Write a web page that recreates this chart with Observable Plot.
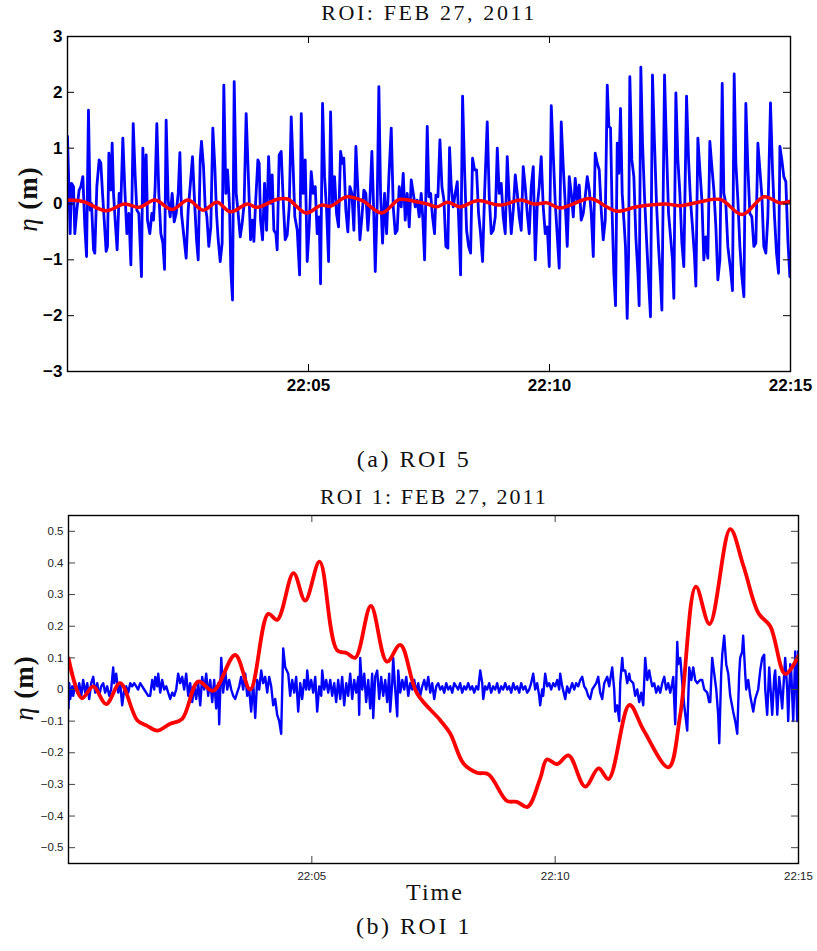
<!DOCTYPE html>
<html><head><meta charset="utf-8">
<script src="https://cdn.jsdelivr.net/npm/d3@7"></script>
<script src="https://cdn.jsdelivr.net/npm/@observablehq/plot@0.6"></script>
<style>
body{margin:0;background:#fff;}
#wrap{position:relative;width:817px;height:951px;overflow:hidden;background:#fff;}
.t{position:absolute;transform:translate(-50%,-50%);white-space:nowrap;font-family:"Liberation Serif","DejaVu Serif",serif;color:#111;}
.ylab{position:absolute;transform:translate(-50%,-50%) rotate(-90deg);white-space:nowrap;font-family:"Liberation Serif","DejaVu Serif",serif;color:#111;font-size:27px;letter-spacing:1px;}
#top,#bot{position:absolute;left:0;}
#top{top:0;} #bot{top:480px;}
</style></head>
<body><div id="wrap">
<div id="top"></div><div id="bot"></div>
<div class="t" style="left:429px;top:13px;font-size:22px;letter-spacing:2.6px">ROI: FEB 27, 2011</div>
<div class="ylab" style="left:28px;top:199px"><i>η</i> <b>(m)</b></div>
<div class="t" style="left:414px;top:459px;font-size:24px;letter-spacing:2.5px">(a) ROI 5</div>
<div class="t" style="left:434px;top:497px;font-size:22px;letter-spacing:2.1px">ROI 1: FEB 27, 2011</div>
<div class="ylab" style="left:24px;top:688px"><i>η</i> <b>(m)</b></div>
<div class="t" style="left:435px;top:892px;font-size:24px;letter-spacing:2px">Time</div>
<div class="t" style="left:414px;top:926px;font-size:24px;letter-spacing:2.5px">(b) ROI 1</div>
</div>
<script>
// time in seconds after 22:00, value in metres
const xTickVals = [300, 600, 900];
const xTickLabels = ["22:05", "22:10", "22:15"];
const topYTicks = [-3, -2, -1, 0, 1, 2, 3];
const botYTicks = [-0.5, -0.4, -0.3, -0.2, -0.1, 0, 0.1, 0.2, 0.3, 0.4, 0.5];

const topBlue = [[0,1.21],[3.3,-0.53],[5.0,0.37],[7.5,0.31],[9.1,-0.53],[11.6,-0.11],[14.5,0.25],[16.6,0.31],[19.1,0.49],[21.6,-0.41],[23.7,-0.94],[26.1,1.68],[28.2,-0.11],[29.9,0.01],[32.4,-0.82],[34.0,-0.88],[36.5,0.31],[39.4,0.79],[41.5,0.73],[43.6,0.19],[45.7,-0.29],[48.1,-0.85],[49.8,-0.76],[51.5,0.91],[54.0,0.25],[55.6,1.09],[57.3,0.19],[59.3,-0.29],[61.8,-0.82],[64.3,0.19],[66.4,0.01],[68.9,1.18],[71.4,0.25],[73.9,-0.53],[76.4,-0.17],[78.9,-1.09],[81.8,1.44],[84.2,0.52],[86.3,-0.11],[88.8,-0.17],[92.1,-1.30],[93.8,1.0],[95.9,0.01],[97.9,0.88],[99.6,-0.29],[102.5,-0.53],[105.0,-0.17],[107.1,-0.29],[109.1,0.31],[111.2,1.44],[113.7,0.19],[116.2,-0.53],[118.7,-0.70],[120.8,-1.17],[122.8,1.50],[125.3,0.07],[127.8,-0.23],[130.3,0.19],[132.8,-0.32],[135.3,-0.17],[137.8,0.19],[139.9,0.92],[141.9,-0.17],[145.3,-0.64],[147.7,-0.97],[150.2,-0.11],[152.7,0.31],[155.6,0.85],[158.1,0.07],[160.6,-0.64],[162.7,-1.0],[165.2,0.79],[166.8,1.12],[169.3,0.67],[171.4,-0.05],[173.5,-0.23],[175.9,-0.76],[178.4,-0.41],[180.9,1.36],[183.4,0.67],[185.5,-0.17],[187.6,-0.64],[190.1,-1.03],[192.5,-0.70],[194.6,2.13],[197.1,0.19],[199.2,0.61],[201.7,-0.05],[203.3,-1.18],[205.4,-1.72],[207.5,2.19],[210.0,0.19],[212.1,-0.11],[215.0,-0.59],[217.4,-0.35],[219.9,0.01],[222.4,1.62],
[227.9,-0.64],[230.3,-0.29],[232.0,-0.67],[234.1,0.01],[237.0,0.79],[238.6,0.73],[240.3,-0.29],[242.8,-0.64],[245.3,0.37],[247.8,-0.47],[250.3,0.85],[252.8,0.01],[254.8,0.52],[256.9,-0.47],[259.4,-0.53],[261.0,-0.82],[263.5,0.88],[266.0,0.94],[268.5,0.07],[271.0,-0.64],[273.5,-0.56],[276.0,-0.05],[278.5,1.56],[281.0,0.61],[283.0,-0.23],[286.0,-0.47],[288.9,-1.27],[291.0,1.62],[293.4,0.19],[295.9,0.79],[298.4,-1.03],[300.9,-0.41],[303.4,0.58],[305.9,0.19],[308.4,0.31],[310.8,-0.53],[313.3,-0.23],[315.0,-1.43],[317.5,1.80],[320.0,0.49],[322.5,-0.11],[325.0,-1.03],[327.5,1.65],[329.9,0.01],[332.4,0.49],[334.9,-0.17],[337.4,-0.41],[339.9,0.94],[342.4,0.73],[344.0,0.82],[346.5,-0.11],[349.0,-0.50],[351.5,0.31],[354.0,0.19],[356.5,-0.47],[359.0,1.03],[361.5,0.25],[364.0,-0.64],[366.5,-0.23],[368.9,0.25],[371.4,0.19],[373.9,-0.47],[376.4,0.07],[378.9,0.94],[381.4,-0.23],[383.1,-1.21],[385.5,0.01],[387.6,2.10],[389.7,0.19],[392.2,-0.70],[394.7,0.19],[397.2,-0.53],[400.1,0.49],[403.0,1.36],[405.5,-0.05],[408.0,-0.53],[410.4,-0.47],[412.9,0.31],[415.4,-0.05],[417.9,0.55],[420.4,-0.29],[422.9,0.19],[425.4,-0.41],[427.9,0.43],[430.4,0.19],[432.9,-0.05],[435.3,0.07],[437.8,-0.23],[440.3,0.19],[442.4,-0.29],[444.5,-1.0],[447.8,1.39],
[449.9,0.13],[452.0,0.19],[454.4,-0.23],[456.9,-0.53],[458.6,0.16],[461.1,0.13],[463.6,1.15],[466.1,0.31],[468.6,0.07],[471.0,-0.76],[473.5,-0.79],[475.6,1.01],[477.7,0.31],[480.2,-0.05],[482.7,0.19],[485.2,0.40],[487.6,-0.53],[489.3,-1.27],[491.8,1.93],[494.3,0.61],[496.8,-0.47],[499.3,-0.76],[501.8,-0.88],[504.2,0.82],[506.7,0.61],[509.2,0.61],[511.7,-0.17],[514.2,-0.53],[516.7,-1.03],[519.2,0.19],[522.5,1.47],[525.0,0.13],[527.5,-0.53],[530.0,-0.47],[532.5,-0.23],[535.0,1.0],[537.4,0.19],[539.9,0.37],[542.4,-0.23],[544.9,-0.53],[547.4,0.85],[549.9,0.07],[552.4,-0.53],[554.9,-0.11],[557.4,0.52],[559.9,0.19],[562.3,-0.23],[564.8,-0.47],[567.3,0.67],[569.8,0.31],[572.3,-0.17],[574.8,-0.53],[577.3,0.31],[579.8,0.67],[582.3,-1.0],[584.7,-0.05],[587.2,0.31],[589.7,0.85],[592.2,-0.05],[594.7,-0.53],[597.2,-0.41],[599.7,-1.12],[602.2,1.76],[604.7,0.88],[607.2,0.01],[609.6,-0.56],[612.1,-1.15],[614.6,1.47],[617.1,0.67],[619.6,0.01],[622.1,-0.76],[624.6,0.49],[627.1,0.19],[629.6,-0.23],[632.0,0.46],[634.5,0.07],[637.0,0.34],[639.5,-0.29],[642.0,-0.17],[644.5,0.13],[647.0,0.49],[649.5,0.25],[652.0,-0.17],[654.5,-0.94],[656.9,0.91],[659.4,0.73],[661.9,0.61],[664.4,-0.11],[666.9,-0.64],[669.4,-0.29],[671.9,2.13],
[673.9,1.39],[676.0,1.36],[678.0,-0.17],[680.1,-1.24],[682.2,-1.82],[684.3,1.09],[686.3,0.55],[688.4,1.71],[690.5,0.19],[692.6,-0.29],[694.6,-0.76],[696.7,-2.05],[698.4,-0.94],[700.0,2.28],[702.5,0.79],[705.0,0.49],[707.5,-0.59],[710.0,-1.24],[711.6,-1.82],[713.7,2.45],[715.8,1.09],[718.3,0.13],[720.8,-0.64],[723.3,-1.36],[725.7,-2.02],[728.2,2.31],[730.7,1.09],[733.2,0.01],[735.7,-0.76],[738.2,-1.36],[739.9,-1.90],[743.2,2.31],[745.7,0.97],[748.2,-0.17],[750.7,-0.59],[753.1,-1.0],[754.8,-1.69],[757.3,1.99],[759.8,0.79],[762.3,0.19],[764.8,-0.70],[767.2,-1.12],[770.6,1.93],[773.1,0.79],[775.5,0.07],[778.0,-0.41],[780.5,-0.94],[782.2,-1.47],[784.7,1.18],[787.2,0.61],[789.7,0.07],[792.1,-1.0],[794.6,-0.59],[797.1,-0.97],[799.6,1.12],[802.1,0.67],[804.6,0.25],[807.1,-0.41],[809.6,-1.36],[812.1,-1.0],[815.0,2.16],[817.0,0.19],[819.5,0.01],[822.0,-0.76],[825.4,-1.18],[827.8,-1.55],[829.9,2.33],[832.0,0.73],[834.5,0.07],[837.0,-0.76],[839.5,-1.30],[842.0,-1.66],[844.4,1.80],[846.9,0.67],[849.4,-0.17],[851.9,-0.23],[854.4,-0.76],[856.9,-0.70],[859.4,1.09],[861.9,0.61],[864.4,0.13],[866.8,-0.76],[869.3,-0.88],[871.8,-0.23],[875.1,1.81],[877.6,0.61],[880.1,-0.23],[882.6,-0.88],[885.1,-1.24],[886.8,1.03],[889.2,0.79],[891.7,0.49],[894.2,0.40],[896.7,-0.64],[899.2,-1.30]];

const topRed = [[1,0.07],[20,0.04],[48,-0.12],[71,0.0],[89,-0.06],[109,0.07],[130,-0.1],[150,0.07],[169,-0.11],[186,0.03],[203,-0.14],[224,0.0],[236,-0.06],[262,0.09],[274,0.09],[297,-0.16],[316,-0.02],[327,-0.04],[348,0.13],[367,0.06],[391,-0.16],[413,0.08],[431,0.05],[448,0.0],[460,-0.05],[473,0.03],[489,-0.05],[510,0.06],[539,-0.02],[564,0.07],[581,0.0],[597,0.02],[613,-0.07],[651,0.1],[671,-0.05],[684,-0.13],[709,-0.05],[744,0.0],[763,-0.03],[788,0.04],[813,0.08],[840,-0.19],[867,0.13],[887,0.02],[900,0.05]];

const botBlue = [[0,-0.06],[0.9,0.02],[2.1,-0.03],[4.6,0.01],[5.8,-0.02],[8.3,0.02],[10.7,-0.01],[13.2,0.02],[15.7,-0.02],[18.1,0.03],[20.6,-0.01],[23.1,0.02],[25.5,-0.03],[28.0,0.02],[30.5,0.04],[32.9,-0.01],[35.4,0.02],[37.9,-0.02],[40.3,0.01],[42.8,0.02],[45.2,-0.01],[47.7,0.01],[50.2,-0.02],[52.6,0.0],[55.1,0.07],[56.3,0.02],[58.8,0.05],[61.3,-0.01],[63.7,0.02],[66.2,-0.05],[68.7,0.0],[71.1,0.01],[73.6,-0.01],[76.1,0.02],[78.5,0.01],[81.0,0.02],[83.5,0.01],[85.9,0.0],[88.4,0.02],[90.9,0.01],[93.3,0.0],[95.8,-0.01],[98.3,-0.02],[100.7,-0.02],[103.2,0.03],[105.7,0.0],[106.9,0.04],[109.4,0.01],[110.6,0.05],[113.1,-0.01],[115.5,0.03],[118.0,0.0],[120.5,0.01],[122.9,-0.01],[125.4,-0.03],[127.9,-0.01],[130.3,-0.02],[132.8,0.0],[135.2,0.05],[137.7,0.02],[140.2,0.04],[142.6,0.0],[145.1,0.05],[147.6,-0.02],[150.0,0.02],[152.5,-0.04],[155.0,0.01],[157.4,-0.03],[159.9,0.02],[162.4,-0.05],[164.8,0.04],[167.3,0.0],[169.8,0.05],[172.2,-0.02],[174.7,0.03],[177.2,-0.04],[179.6,0.03],[182.1,-0.06],[184.6,0.02],[185.8,-0.11],[188.3,0.10],[190.7,-0.01],[193.2,0.06],[195.7,0.0],[198.1,0.03],[200.6,0.0],[203.1,-0.02],[205.5,-0.03],[208.0,-0.01],[210.5,0.01],[212.9,0.04],[215.4,0.0],[217.9,0.05],[220.3,-0.02],[222.8,0.0],[225.2,-0.07],[227.7,0.02],[230.2,-0.09],[232.6,0.03],[235.1,0.0],[237.6,0.06],[240.0,0.02],[242.5,0.04],[245.0,-0.01],[247.4,0.04],[249.9,0.01],[252.4,-0.05],[254.8,-0.03],[257.3,-0.08],[259.8,-0.1],[262.2,-0.14],[264.7,0.13],[267.2,0.07],
[270.9,0.05],[273.3,-0.02],[275.8,0.03],[278.3,-0.01],[280.7,0.04],[283.2,-0.07],[285.7,0.02],[288.1,-0.03],[290.6,0.03],[293.1,0.0],[294.3,0.06],[296.8,0.0],[299.2,0.03],[301.7,-0.01],[304.2,0.04],[306.6,-0.07],[309.1,0.01],[311.6,-0.02],[312.8,0.06],[315.3,0.0],[317.7,0.03],[320.2,-0.01],[322.7,0.03],[325.1,-0.02],[327.6,0.02],[330.0,-0.04],[332.5,0.03],[335.0,-0.03],[337.4,0.04],[339.9,-0.05],[342.4,0.02],[344.8,-0.02],[347.3,0.05],[349.8,-0.03],[352.2,0.03],[354.7,-0.01],[357.2,0.04],[358.4,-0.08],[359.6,0.10],[362.1,0.0],[364.6,0.05],[367.0,-0.04],[369.5,0.03],[372.0,-0.06],[374.4,0.05],[375.7,-0.09],[378.1,0.04],[380.6,0.06],[383.1,-0.03],[385.5,0.04],[388.0,-0.02],[390.5,0.03],[392.9,-0.04],[395.4,0.05],[396.6,-0.07],[399.1,0.02],[400.3,0.10],[402.8,0.0],[405.3,-0.085],[406.5,0.06],[409.0,-0.01],[411.5,0.03],[413.9,0.0],[416.4,0.04],[418.9,-0.02],[421.3,0.02],[423.8,0.0],[426.3,0.03],[428.7,-0.01],[431.2,0.02],[433.6,-0.02],[436.1,0.01],[438.6,0.03],[441.0,0.0],[443.5,0.04],[446.0,-0.01],[448.4,0.02],[450.9,-0.03],[453.4,0.01],[455.8,0.02],[458.3,0.0],[460.8,0.01],[463.2,-0.01],[465.7,0.02],[468.1,0.0],[470.6,0.01],[473.1,-0.01],[475.5,0.02],[478.0,0.01],[480.5,0.0],[482.9,0.02],[485.4,-0.01],[487.9,0.01],[490.3,0.0],[492.8,0.02],[495.3,0.0],[497.7,0.01],[500.2,-0.01],[502.7,0.01],[505.1,0.0],[507.6,0.06],[510.1,0.02],[511.3,-0.03],[513.8,0.01],[516.2,0.0],[518.7,0.02],[521.1,-0.01],[523.6,0.01],[526.1,0.0],[528.5,0.02],[531.0,-0.01],[533.5,0.01],[535.9,0.0],[538.4,0.02],[540.9,0.0],[543.3,0.01],[545.8,-0.01],[548.3,0.02],[550.7,0.0],[553.2,0.01],[555.7,-0.01],[558.1,0.02],[560.6,0.0],[563.1,0.01],[565.5,-0.01],[568.0,0.0],[570.4,0.02],[572.9,0.05],[575.4,0.0],[577.8,0.02],[580.3,-0.02],[581.5,-0.05],[584.0,0.0],[585.2,-0.02],[587.7,0.05],[590.2,0.01],[592.6,0.02],[595.1,0.0],[597.6,0.02],[600.0,0.01],[602.5,0.03],[605.0,0.0],[606.2,0.05],[608.7,0.01],[612.4,-0.03],[614.8,0.01],[617.3,-0.01],[621.0,0.02],[623.5,0.0],[625.9,0.02],[628.4,0.01],[630.9,0.03],[633.3,0.04],[635.8,0.01],[638.3,0.0],[640.7,-0.02],[643.2,-0.03],[645.7,0.0],[648.1,0.01],[650.6,0.02],[653.1,0.04],[655.5,-0.01],[658.0,-0.03],[660.5,0.02],[664.2,0.04],[666.6,0.01],[670.3,0.07],[672.8,0.0],[674.0,-0.07],[676.5,-0.05],[679.0,-0.10],[680.2,0.02],[682.7,0.10],[683.9,0.06],[686.4,0.06],[688.8,0.02],[691.3,0.05],[692.5,0.03],[696.2,0.02],[698.7,-0.02],[701.2,0.0],[703.6,-0.04],[706.1,-0.01],[708.6,-0.05],[711.0,0.10],[713.5,0.03],[716.0,0.06],[717.2,0.04],[719.7,0.01],[722.1,0.02],[724.6,-0.01],[727.1,0.01],[729.5,-0.01],[732.0,0.02],[734.5,0.04],[736.9,0.0],[739.4,0.02],[741.9,-0.01],[744.3,0.02],[745.6,0.04],[748.0,-0.11],[750.5,0.15],[751.7,0.08],[754.2,0.10],[756.7,0.02],[759.1,-0.05],[762.8,-0.13],[765.3,0.07],[767.8,0.03],[770.2,0.07],[772.7,0.03],[775.1,0.02],[778.8,0.03],[781.3,0.03],[783.8,0.0],[787.5,-0.01],[789.9,-0.04],[791.2,-0.04],[793.6,0.10],[796.1,0.05],[798.6,0.0],[801.0,-0.08],[802.3,-0.17],[804.7,0.05],[806.0,0.11],[808.4,0.17],[810.9,0.08],[813.4,0.05],[815.8,-0.02],[819.5,-0.07],[822.0,-0.1],[824.5,-0.14],[826.9,0.05],[828.1,0.1],[830.6,0.12],[831.8,0.17],[834.3,0.05],[835.5,0.0],[838.0,0.03],[840.5,-0.02],[844.2,-0.07],[846.6,-0.03],[850.3,0.0],[852.8,0.06],[855.3,0.1],[857.7,0.11],[859.0,0.0],[861.4,-0.08],[863.9,0.07],[865.1,0.02],[867.6,-0.08],[870.1,0.04],[871.3,0.06],[873.8,-0.08],[876.2,0.04],[877.5,0.01],[879.9,-0.06],[882.4,0.05],[883.6,0.1],[886.1,0.0],[887.3,-0.1],[889.8,0.08],[891.0,0.06],[893.5,-0.1],[896.0,0.12],[897.2,0.02],[898.4,-0.1],[899.6,0.12]];

const botRed = [[0,0.099],[16.5,-0.027],[30.5,0.01],[46.5,-0.046],[63.7,0.02],[84.7,-0.097],[97,-0.115],[109.4,-0.13],[125.4,-0.108],[140.2,-0.093],[159.9,0.025],[178.4,-0.004],[205.5,0.109],[224,0.0],[246.2,0.239],[257.3,0.22],[277.4,0.368],[291.8,0.281],[309.5,0.404],[330.9,0.125],[343.2,0.115],[353.5,0.10],[372.8,0.264],[392.6,0.088],[409,0.141],[429.6,-0.012],[458.3,-0.097],[470.6,-0.139],[487,-0.234],[503.5,-0.263],[517.8,-0.268],[540.5,-0.352],[552.8,-0.355],[565.9,-0.371],[581.6,-0.281],[589.8,-0.221],[602.2,-0.236],[616.5,-0.208],[637,-0.307],[653.4,-0.249],[665.8,-0.283],[691.6,-0.049],[708.9,-0.128],[739.7,-0.246],[754.2,-0.08],[773.5,0.325],[790.3,0.207],[815.8,0.507],[832.2,0.39],[850.7,0.241],[865.2,0.2],[883.6,0.049],[900,0.106]];

function fmtY(d) { return d === 0 ? "0" : (d < 0 ? "\u2212" + String(Math.abs(d)) : String(d)); }
function fmtX(d) { const i = xTickVals.indexOf(d); return i < 0 ? "" : xTickLabels[i]; }

function chart(o) {
  const iw = o.W - o.ml - o.mr, ih = o.H - o.mt - o.mb, tl = 7;
  return Plot.plot({
    width: o.W, height: o.H,
    marginTop: o.mt, marginRight: o.mr, marginBottom: o.mb, marginLeft: o.ml,
    style: {fontFamily: "'Liberation Sans', Arial, sans-serif", fontSize: o.fs, fontWeight: o.fw, color: o.tc, background: "transparent"},
    x: {domain: [0, 900], ticks: xTickVals, tickFormat: fmtX, tickSize: 0, tickPadding: o.xpad, label: null},
    y: {domain: o.ydom, ticks: o.yticks, tickFormat: fmtY, tickSize: 0, tickPadding: o.ypad, label: null},
    marks: [
      Plot.line(o.blue, {x: d => d[0], y: d => d[1], stroke: "#0000ff", strokeWidth: o.bw, clip: true}),
      Plot.line(o.red, {x: d => d[0], y: d => d[1], stroke: "#ff0000", strokeWidth: o.rw, curve: "catmull-rom", clip: true}),
      Plot.tickX(xTickVals, {x: d => d, insetTop: ih - tl, stroke: o.kc}),
      Plot.tickX(xTickVals, {x: d => d, insetBottom: ih - tl, stroke: o.kc}),
      Plot.tickY(o.yticks, {y: d => d, insetRight: iw - tl, stroke: o.kc}),
      Plot.tickY(o.yticks, {y: d => d, insetLeft: iw - tl, stroke: o.kc}),
      Plot.frame({stroke: "#000", strokeWidth: 1.4})
    ]
  });
}

document.getElementById("top").append(chart({
  W: 817, H: 400, mt: 36, mr: 27, mb: 29, ml: 67,
  ydom: [-3, 3], yticks: topYTicks, blue: topBlue, red: topRed,
  bw: 2.8, rw: 3.5, fs: "17px", fw: "bold", tc: "#000", kc: "#000", xpad: 7, ypad: 5
}));
document.getElementById("bot").append(chart({
  W: 817, H: 420, mt: 35, mr: 19, mb: 37, ml: 68,
  ydom: [-0.55, 0.55], yticks: botYTicks, blue: botBlue, red: botRed,
  bw: 2.4, rw: 3.8, fs: "11.5px", fw: "normal", tc: "#222", kc: "#444", xpad: 8, ypad: 5
}));
</script>
</body></html>
